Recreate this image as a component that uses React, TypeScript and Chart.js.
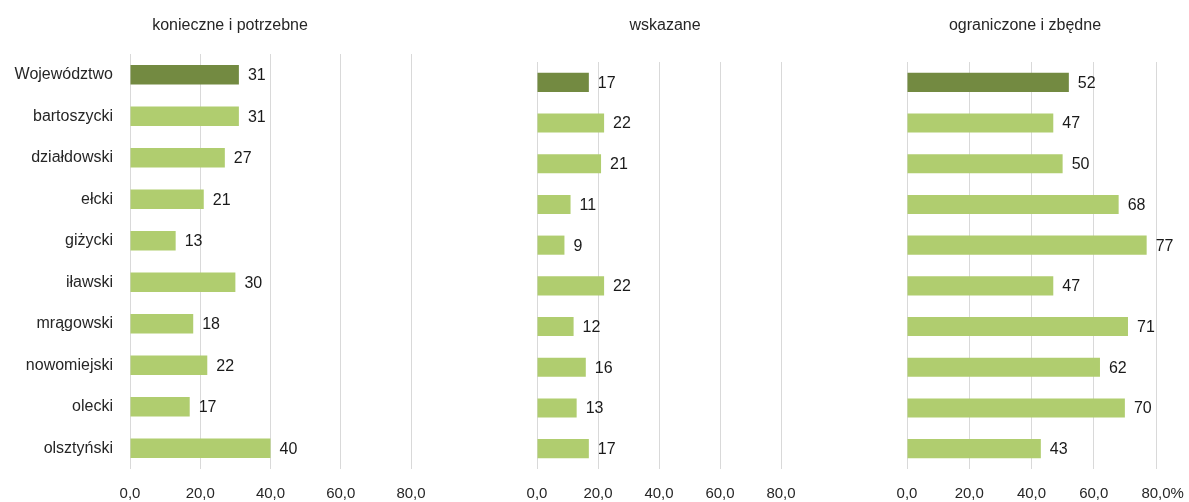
import React, { useEffect, useRef } from "react";
import { Chart, registerables } from "chart.js";

Chart.register(...registerables);

const categories = [
  "Województwo",
  "bartoszycki",
  "działdowski",
  "ełcki",
  "giżycki",
  "iławski",
  "mrągowski",
  "nowomiejski",
  "olecki",
  "olsztyński",
];
const necessaryValues = [31, 31, 27, 21, 13, 30, 18, 22, 17, 40];
const indicatedValues = [17, 22, 21, 11, 9, 22, 12, 16, 13, 17];
const limitedValues = [52, 47, 50, 68, 77, 47, 71, 62, 70, 43];
const panelTitles = ["konieczne i potrzebne", "wskazane", "ograniczone i zbędne"];
const xTickValues = [0, 20, 40, 60, 80];

const FONT = "'Liberation Sans', Arial, sans-serif";
const TEXT = "#262626";
const DARK = "#738a41";
const LIGHT = "#b0cd6f";
const GRID = "#d9d9d9";

const fmt = (v: number) => v.toFixed(1).replace(".", ",");

type PanelProps = {
  left: number;
  width: number;
  axisWidth: number;
  padRight: number;
  padTop: number;
  titleX: number;
  showCategories: boolean;
  values: number[];
  title: string;
  percent: boolean;
};

function Panel(p: PanelProps) {
  const ref = useRef<HTMLCanvasElement | null>(null);
  useEffect(() => {
    if (!ref.current) return;
    const titlePlugin = {
      id: "panelTitle",
      afterDraw(chart: any) {
        const ctx = chart.ctx;
        ctx.save();
        ctx.font = `16px ${FONT}`;
        ctx.fillStyle = TEXT;
        ctx.textAlign = "center";
        ctx.textBaseline = "middle";
        ctx.fillText(p.title, p.titleX, 26);
        ctx.restore();
      },
    };
    const labelPlugin = {
      id: "valueLabels",
      afterDatasetsDraw(chart: any) {
        const ctx = chart.ctx;
        const meta = chart.getDatasetMeta(0);
        ctx.save();
        ctx.font = `16px ${FONT}`;
        ctx.fillStyle = "#1a1a1a";
        ctx.textAlign = "left";
        ctx.textBaseline = "middle";
        meta.data.forEach((el: any, i: number) => {
          ctx.fillText(String(p.values[i]), el.x + 9, el.y + 1);
        });
        ctx.restore();
      },
    };
    const percentPlugin = {
      id: "percentSuffix",
      afterDraw(chart: any) {
        if (!p.percent) return;
        const xs = chart.scales.x;
        const last = xTickValues[xTickValues.length - 1];
        const px = xs.getPixelForValue(last);
        const ctx = chart.ctx;
        ctx.save();
        ctx.font = `15px ${FONT}`;
        ctx.fillStyle = TEXT;
        ctx.textBaseline = "middle";
        ctx.textAlign = "left";
        const w = ctx.measureText(fmt(last)).width;
        ctx.fillText("%", px + w / 2, xs.top + 16 + 9);
        ctx.restore();
      },
    };
    const chart = new Chart(ref.current, {
      type: "bar",
      data: {
        labels: categories,
        datasets: [
          {
            data: p.values,
            backgroundColor: p.values.map((_, i) => (i === 0 ? DARK : LIGHT)),
            borderWidth: 0,
            barPercentage: 0.47,
            categoryPercentage: 1,
          },
        ],
      },
      options: {
        indexAxis: "y",
        animation: false,
        responsive: false,
        layout: { padding: { left: 0, right: p.padRight, top: p.padTop, bottom: 0 } },
        plugins: {
          legend: { display: false },
          tooltip: { enabled: false },
          title: { display: false },
        },
        scales: {
          x: {
            type: "linear",
            min: 0,
            max: xTickValues[xTickValues.length - 1],
            afterBuildTicks: (s: any) => {
              s.ticks = xTickValues.map((v) => ({ value: v }));
            },
            afterFit: (s: any) => {
              s.height = 33;
            },
            grid: { color: GRID, lineWidth: 1, drawTicks: false },
            border: { display: false },
            ticks: {
              padding: 16,
              color: TEXT,
              font: { family: FONT, size: 15 },
              maxRotation: 0,
              callback: (v: any) => fmt(Number(v)),
            },
          },
          y: {
            type: "category",
            afterFit: (s: any) => {
              s.width = p.axisWidth;
            },
            grid: { display: false, drawTicks: false },
            border: { display: false },
            ticks: {
              display: p.showCategories,
              padding: 17,
              color: TEXT,
              font: { family: FONT, size: 16 },
            },
          },
        },
      },
      plugins: [titlePlugin, labelPlugin, percentPlugin],
    } as any);
    return () => chart.destroy();
  }, []);
  return (
    <canvas
      ref={ref}
      width={p.width}
      height={502}
      style={{ position: "absolute", left: p.left, top: 0, width: p.width, height: 502 }}
    />
  );
}

export default function App() {
  return (
    <div
      style={{
        position: "absolute",
        left: 0,
        top: 0,
        width: 1189,
        height: 502,
        background: "#ffffff",
        overflow: "hidden",
      }}
    >
      <Panel
        left={0}
        width={460}
        axisWidth={130}
        padRight={49}
        padTop={54}
        titleX={230}
        showCategories={true}
        values={necessaryValues}
        title={panelTitles[0]}
        percent={false}
      />
      <Panel
        left={460}
        width={410}
        axisWidth={77}
        padRight={89}
        padTop={62}
        titleX={205}
        showCategories={false}
        values={indicatedValues}
        title={panelTitles[1]}
        percent={false}
      />
      <Panel
        left={860}
        width={329}
        axisWidth={47}
        padRight={33}
        padTop={62}
        titleX={165}
        showCategories={false}
        values={limitedValues}
        title={panelTitles[2]}
        percent={true}
      />
    </div>
  );
}
